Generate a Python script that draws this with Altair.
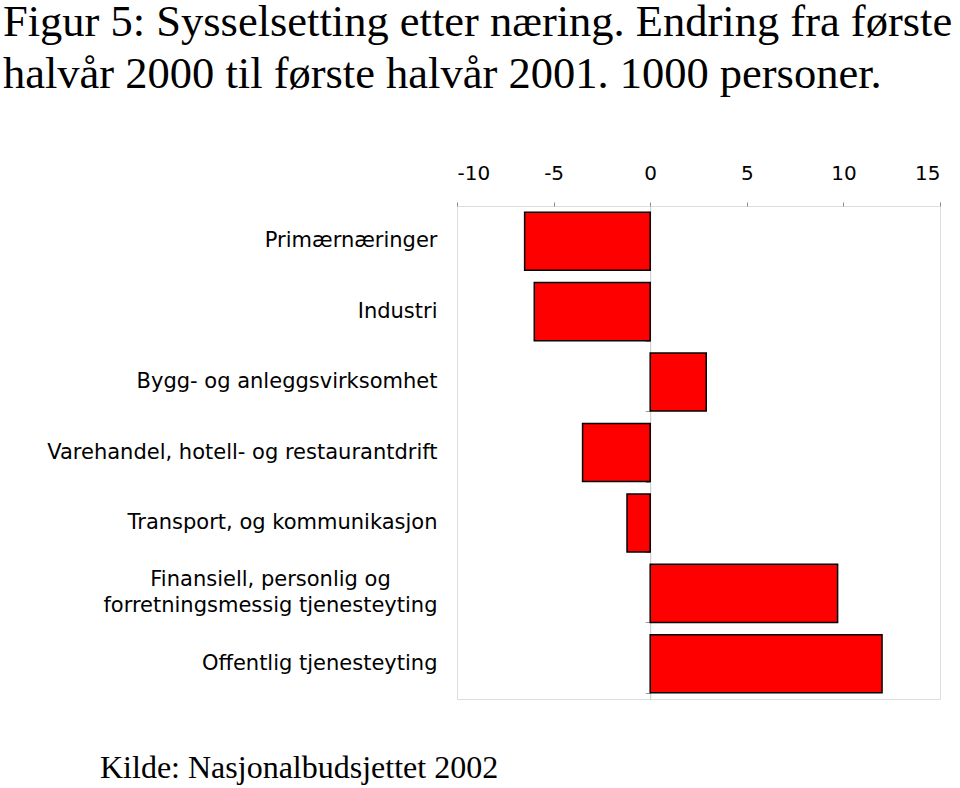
import altair as alt
import pandas as pd

title_lines = [
    "Figur 5: Sysselsetting etter næring. Endring fra første",
    "halvår 2000 til første halvår 2001. 1000 personer.",
]
source_text = "Kilde: Nasjonalbudsjettet 2002"

categories = [
    "Primærnæringer",
    "Industri",
    "Bygg- og anleggsvirksomhet",
    "Varehandel, hotell- og restaurantdrift",
    "Transport, og kommunikasjon",
    "Finansiell, personlig og\u00a0" + "\u2007" * 3 + "\u200b|forretningsmessig tjenesteyting",
    "Offentlig tjenesteyting",
]
values = [-6.5, -6.0, 2.9, -3.5, -1.2, 9.7, 12.0]
x_ticks = [-10, -5, 0, 5, 10, 15]

df = pd.DataFrame({"category": categories, "value": values})

PLOT_W, PLOT_H = 483, 493
LABEL_FONT = "DejaVu Sans"

y_scale = alt.Scale(paddingInner=0.175, paddingOuter=0.0875)
x_scale = alt.Scale(domain=[-10, 15], nice=False)

base = alt.Chart(df)

bars = base.mark_bar(color="#ff0000", stroke="black", strokeWidth=1.5).encode(
    x=alt.X(
        "value:Q",
        scale=x_scale,
        axis=alt.Axis(
            orient="top",
            values=x_ticks,
            title=None,
            grid=False,
            domain=False,
            ticks=True,
            tickSize=4,
            tickColor="#8a8a8a",
            labelPadding=19,
            labelFont=LABEL_FONT,
            labelFontSize=20,
            labelColor="black",
            labelExpr="'' + datum.value",
        ),
    ),
    y=alt.Y(
        "category:N",
        sort=categories,
        scale=y_scale,
        axis=alt.Axis(
            orient="left",
            title=None,
            domain=False,
            ticks=False,
            labelPadding=20,
            labelFont=LABEL_FONT,
            labelFontSize=21,
            labelColor="black",
            labelLimit=600,
            labelLineHeight=26,
            labelOffset={
                "condition": {"test": "indexof(datum.label, '|') >= 0", "value": -13},
                "value": 0,
            },
            labelExpr="split(datum.label, '|')",
        ),
    ),
)

zero_axis = base.mark_point(opacity=0).encode(
    x=alt.X("value:Q", scale=x_scale),
    y=alt.Y(
        "category:N",
        sort=categories,
        scale=y_scale,
        axis=alt.Axis(
            orient="left",
            offset=-193.2,
            title=None,
            labels=False,
            ticks=True,
            tickBand="extent",
            tickSize=5,
            tickColor="#9a9a9a",
            domain=True,
            domainColor="#c8c8c8",
            domainWidth=1,
        ),
    ),
)

source = alt.Chart(pd.DataFrame({"t": [source_text]})).mark_text(
    font="Liberation Serif",
    fontSize=32,
    align="left",
    baseline="alphabetic",
    color="black",
).encode(text="t:N", x=alt.value(-357), y=alt.value(572))

chart = (
    alt.layer(zero_axis, bars, source)
    .resolve_axis(y="independent")
    .properties(
        width=PLOT_W,
        height=PLOT_H,
        autosize=alt.AutoSizeParams(type="none"),
        padding={"left": 457, "top": 206, "right": 20, "bottom": 89},
        title=alt.TitleParams(
            text=title_lines,
            anchor="start",
            frame="group",
            dx=-454,
            dy=-66,
            offset=0,
            font="Liberation Serif",
            fontSize=44.5,
            fontWeight="normal",
            lineHeight=52,
            color="black",
        ),
    )
    .configure_view(stroke="#808080", strokeWidth=2)
    .configure(background="white")
)

chart.save("out.html", embed_options={"renderer": "svg", "actions": False})
